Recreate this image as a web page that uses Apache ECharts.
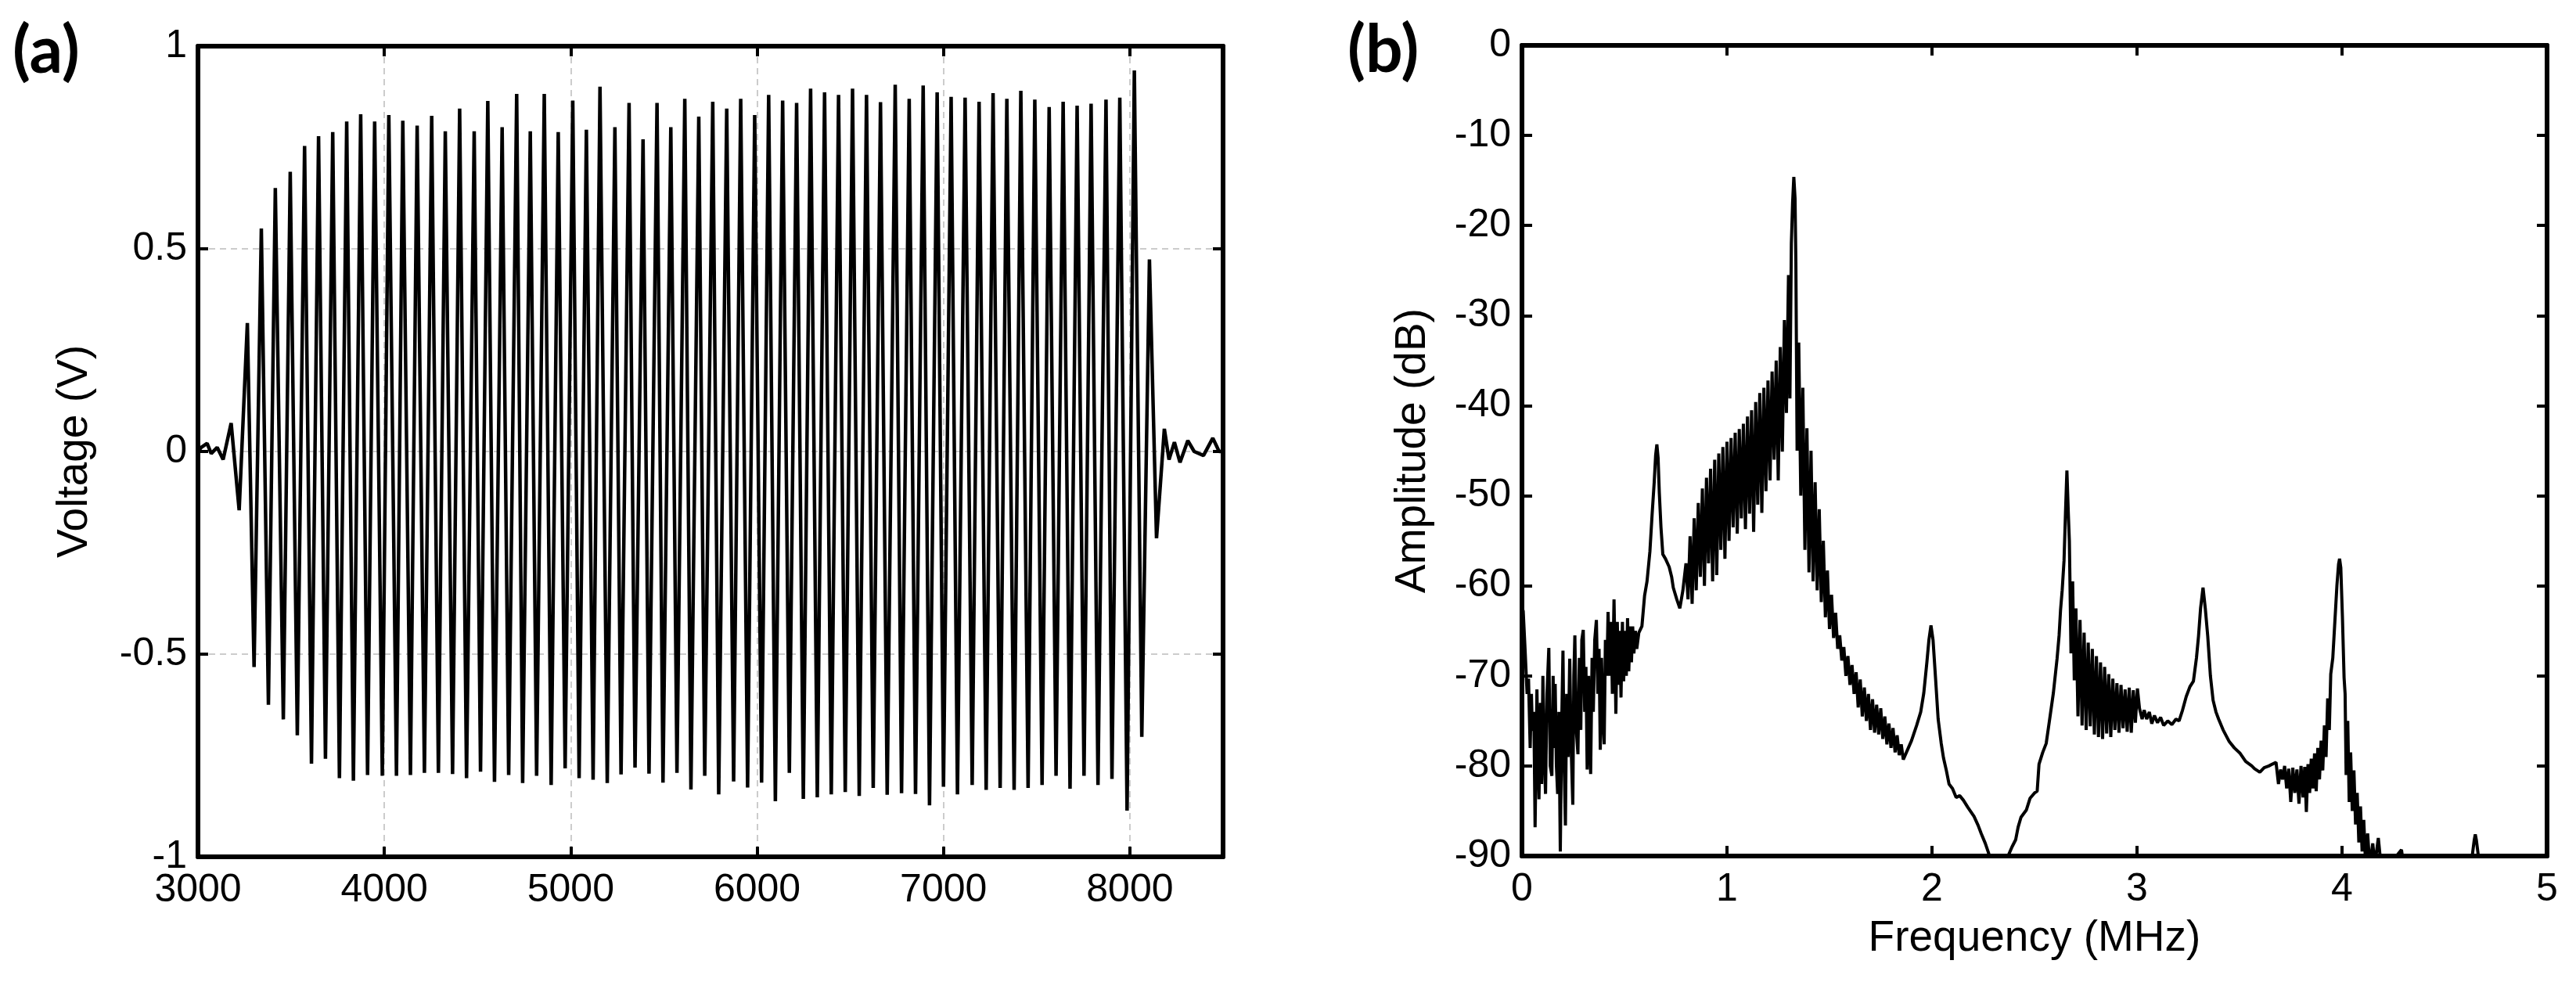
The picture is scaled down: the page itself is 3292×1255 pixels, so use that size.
<!DOCTYPE html>
<html>
<head>
<meta charset="utf-8">
<script src="https://cdn.jsdelivr.net/npm/echarts@6/dist/echarts.min.js"></script>
<style>
  html, body { margin: 0; padding: 0; background: #fff; }
  #chart { width: 3292px; height: 1255px; }
</style>
</head>
<body>
<div id="chart"></div>
<script>
// (a) time trace: peaks and troughs of each cycle
var leadSample = [3000, 3017, 3049, 3071, 3103, 3135];
var leadVolt = [0.0, 0.01, 0.02, -0.005, 0.01, -0.02];

var peakSample = [3178, 3265, 3340, 3415, 3495, 3572, 3647, 3723, 3798, 3873,
  3948, 4024, 4099, 4176, 4254, 4327, 4404, 4482, 4555, 4632,
  4710, 4783, 4858, 4933, 5011, 5084, 5157, 5237, 5313, 5388,
  5463, 5537, 5612, 5687, 5762, 5837, 5912, 5987, 6062, 6137,
  6212, 6287, 6362, 6437, 6512, 6587, 6662, 6741, 6816, 6891,
  6966, 7041, 7116, 7191, 7266, 7340, 7415, 7490, 7567, 7642,
  7717, 7792, 7872, 7946, 8024, 8105];
var peakVolt = [0.07, 0.317, 0.55, 0.65, 0.69, 0.754, 0.778, 0.788, 0.814, 0.832,
  0.814, 0.83, 0.816, 0.804, 0.828, 0.79, 0.846, 0.79, 0.865, 0.80,
  0.882, 0.79, 0.882, 0.788, 0.866, 0.794, 0.90, 0.80, 0.86, 0.77,
  0.86, 0.80, 0.87, 0.826, 0.863, 0.846, 0.87, 0.83, 0.88, 0.866,
  0.86, 0.895, 0.886, 0.88, 0.895, 0.88, 0.862, 0.905, 0.87, 0.903,
  0.886, 0.875, 0.873, 0.863, 0.884, 0.87, 0.89, 0.868, 0.85, 0.863,
  0.853, 0.858, 0.868, 0.873, 0.94, 0.474];

var troughSample = [3221, 3301, 3378, 3458, 3533, 3609, 3684, 3759, 3834, 3910,
  3989, 4065, 4140, 4215, 4290, 4366, 4441, 4516, 4591, 4667,
  4742, 4817, 4895, 4970, 5045, 5120, 5196, 5270, 5345, 5420,
  5495, 5570, 5645, 5719, 5794, 5874, 5949, 6024, 6098, 6173,
  6248, 6323, 6398, 6473, 6548, 6623, 6698, 6775, 6850, 6925,
  7000, 7075, 7154, 7229, 7304, 7379, 7454, 7529, 7604, 7679,
  7754, 7829, 7904, 7985, 8064, 8143];
var troughVolt = [-0.145, -0.532, -0.625, -0.661, -0.70, -0.77, -0.758, -0.806, -0.812, -0.798,
  -0.80, -0.80, -0.798, -0.793, -0.793, -0.796, -0.806, -0.79, -0.815, -0.798,
  -0.818, -0.80, -0.823, -0.782, -0.806, -0.81, -0.818, -0.797, -0.78, -0.795,
  -0.817, -0.793, -0.834, -0.80, -0.846, -0.814, -0.829, -0.817, -0.863, -0.793,
  -0.857, -0.853, -0.846, -0.84, -0.85, -0.83, -0.847, -0.843, -0.845, -0.873,
  -0.827, -0.846, -0.823, -0.835, -0.83, -0.835, -0.83, -0.823, -0.80, -0.832,
  -0.80, -0.823, -0.808, -0.886, -0.704, -0.214];

var tailSample = [8185, 8210, 8239, 8269, 8311, 8345, 8395, 8445, 8479, 8500];
var tailVolt = [0.056, -0.02, 0.023, -0.027, 0.027, 0.0, -0.01, 0.033, 0.0, 0.0];

// (b) spectrum
var lowFreq = [0, 0.006, 0.015, 0.025, 0.032, 0.04, 0.046, 0.051, 0.058, 0.064,
  0.073, 0.079, 0.083, 0.09, 0.096, 0.102, 0.109, 0.115, 0.122, 0.131,
  0.138, 0.146, 0.152, 0.157, 0.162, 0.168, 0.174, 0.18, 0.187, 0.194,
  0.2, 0.206, 0.212, 0.218, 0.225, 0.233, 0.24, 0.248, 0.253, 0.258,
  0.265, 0.273, 0.28, 0.287, 0.292, 0.299, 0.306, 0.312, 0.318, 0.325,
  0.33, 0.335, 0.342, 0.348, 0.355, 0.363, 0.37, 0.376, 0.382, 0.388,
  0.395, 0.401, 0.407, 0.414, 0.42, 0.428, 0.435, 0.441, 0.449, 0.454,
  0.458, 0.465, 0.471, 0.477, 0.483, 0.49, 0.496, 0.503, 0.509, 0.515,
  0.521, 0.528, 0.534, 0.54, 0.546, 0.553, 0.56, 0.57, 0.585, 0.598,
  0.61, 0.624, 0.635, 0.645, 0.652, 0.658, 0.664, 0.67, 0.678, 0.687,
  0.7, 0.718, 0.73, 0.738, 0.755, 0.77, 0.785];
var lowDb = [-62.5, -62.8, -67, -72, -70.3, -78, -72, -76.1, -74, -86.8,
  -71.5, -80, -83.7, -73, -82, -70, -79, -83.1, -72, -66.9,
  -80, -81.1, -70, -78, -70.9, -80, -83.1, -74, -89.5, -75,
  -67.2, -80, -86.6, -72, -79, -68.1, -78, -84.3, -70, -65.5,
  -76, -78.7, -68, -76, -66, -64.9, -74, -69, -80.4, -70,
  -77, -80.9, -68, -74, -66, -63.8, -72, -67, -78.2, -68,
  -75, -77.6, -66, -70, -62.9, -70, -64, -72, -61.5, -68,
  -74.2, -64, -71, -65, -72.4, -64, -70.6, -65, -70, -63.6,
  -69.5, -64.5, -68.5, -64.5, -67.5, -65, -67, -65.2, -64.5, -61.1,
  -59.5, -56.2, -52, -48.5, -45.5, -44.3, -45.8, -49.7, -53.5, -56.5,
  -57, -57.9, -59, -60.2, -61.5, -62.5, -60.5];

var mainFreq = [0.80, 0.81, 0.82, 0.83, 0.84, 0.85, 0.86, 0.87, 0.88, 0.89,
  0.90, 0.91, 0.92, 0.93, 0.94, 0.95, 0.96, 0.97, 0.98, 0.99,
  1.00, 1.01, 1.02, 1.03, 1.04, 1.05, 1.06, 1.07, 1.08, 1.09,
  1.10, 1.11, 1.12, 1.13, 1.14, 1.15, 1.16, 1.17, 1.18, 1.19,
  1.20, 1.21, 1.22, 1.23, 1.24, 1.25, 1.26, 1.27, 1.28, 1.29,
  1.30, 1.307, 1.314, 1.32, 1.326, 1.332, 1.336, 1.342, 1.35, 1.36,
  1.37, 1.38, 1.39, 1.40, 1.41, 1.42, 1.43, 1.44, 1.45, 1.46,
  1.47, 1.48, 1.49, 1.50, 1.51, 1.52, 1.53, 1.54, 1.55, 1.56,
  1.57, 1.58, 1.59, 1.60, 1.61, 1.62, 1.63, 1.64, 1.65, 1.66,
  1.67, 1.68, 1.69, 1.70, 1.71, 1.72, 1.73, 1.74, 1.75, 1.76,
  1.77, 1.78, 1.79, 1.80, 1.81, 1.82, 1.83, 1.84, 1.85, 1.86];
var mainDb = [-57.5, -61.5, -54.5, -62.0, -52.5, -60.5, -50.8, -59.0, -49.2, -60.0,
  -48.0, -57.5, -47.0, -59.5, -46.0, -58.8, -45.3, -56.0, -44.6, -57.0,
  -44.0, -55.0, -43.6, -53.5, -43.0, -54.2, -42.6, -52.5, -42.0, -53.7,
  -41.2, -52.0, -40.5, -54.0, -39.6, -51.0, -38.6, -51.9, -38.0, -49.5,
  -37.2, -48.3, -36.2, -46.0, -35.0, -48.3, -33.5, -45.1, -30.5, -40.8,
  -25.5, -39.2, -22.0, -17.5, -14.6, -17.0, -24.0, -45.0, -33.0, -50.0,
  -38.0, -56.0, -42.5, -58.5, -45.0, -59.5, -48.5, -60.5, -51.5, -61.8,
  -55.0, -63.5, -58.3, -64.8, -61.0, -65.8, -63.0, -67.0, -65.5, -68.3,
  -66.8, -70.0, -67.8, -71.0, -68.8, -72.0, -69.6, -73.5, -70.4, -74.5,
  -71.3, -75.0, -72.0, -76.0, -72.6, -76.3, -73.2, -76.5, -73.6, -77.0,
  -74.5, -77.6, -75.3, -78.0, -75.8, -78.5, -76.6, -78.8, -77.6, -79.3];

var midFreq = [1.875, 1.90, 1.925, 1.945, 1.96, 1.975, 1.985, 1.995, 2.005, 2.018,
  2.03, 2.045, 2.056, 2.07, 2.083, 2.10, 2.118, 2.135, 2.153, 2.175,
  2.205, 2.225, 2.24, 2.26, 2.275, 2.29, 2.32, 2.35, 2.373, 2.39,
  2.408, 2.42, 2.434, 2.46, 2.478, 2.50, 2.513, 2.522, 2.54, 2.557,
  2.574, 2.592, 2.61, 2.62, 2.627, 2.635, 2.644, 2.651, 2.658, 2.665];
var midDb = [-78.5, -77.2, -75.5, -74.0, -71.9, -68.5, -66.0, -64.4, -66.0, -70.5,
  -74.8, -77.5, -79.1, -80.5, -82.0, -82.5, -83.5, -83.3, -83.8, -84.6,
  -85.6, -86.6, -87.5, -88.6, -89.6, -90.8, -92.0, -91.5, -89.9, -89.0,
  -88.2, -86.8, -85.7, -84.9, -83.6, -83.0, -82.8, -79.8, -78.5, -77.5,
  -74.8, -71.9, -68.1, -65.5, -62.7, -60.5, -57.2, -52.0, -47.2, -52.0];

var upperFreq = [2.67, 2.678, 2.686, 2.694, 2.702, 2.712, 2.722, 2.732, 2.742, 2.752,
  2.762, 2.772, 2.782, 2.792, 2.802, 2.812, 2.822, 2.832, 2.842, 2.852,
  2.862, 2.872, 2.882, 2.892, 2.902, 2.912, 2.922, 2.932, 2.942, 2.952,
  2.962, 2.972, 2.982, 2.992, 3.002, 3.012, 3.025, 3.035, 3.047, 3.06,
  3.072, 3.085, 3.10, 3.115, 3.13, 3.15, 3.17, 3.19, 3.205, 3.222,
  3.24, 3.258, 3.275, 3.29, 3.30, 3.31, 3.322, 3.333, 3.345, 3.358,
  3.371, 3.385, 3.398, 3.42, 3.45, 3.475, 3.503, 3.53, 3.56, 3.573,
  3.599, 3.62, 3.643, 3.66, 3.678];
var upperDb = [-55.0, -67.5, -59.5, -70.5, -62.5, -74.5, -63.8, -75.5, -65.2, -76.0,
  -66.3, -75.6, -67.0, -76.5, -67.8, -76.8, -68.5, -77.0, -69.0, -76.4,
  -69.8, -76.8, -70.3, -76.0, -70.8, -76.3, -71.0, -75.8, -71.5, -76.2,
  -71.3, -76.3, -71.6, -75.2, -71.4, -73.6, -74.8, -73.8, -74.8, -74.0,
  -75.3, -74.4, -75.2, -74.6, -75.5, -75.0, -75.4, -74.8, -75.0, -73.8,
  -72.3, -71.2, -70.6, -68.0, -65.6, -62.5, -60.2, -62.5, -65.6, -70.0,
  -72.7, -74.0, -74.8, -76.0, -77.3, -78.0, -78.6, -79.5, -80.0, -80.3,
  -80.7, -80.2, -80.0, -79.8, -79.6];

var highFreq = [3.69, 3.70, 3.71, 3.72, 3.73, 3.74, 3.75, 3.76, 3.77, 3.78,
  3.79, 3.80, 3.81, 3.818, 3.826, 3.834, 3.842, 3.85, 3.858, 3.866,
  3.874, 3.882, 3.89, 3.898, 3.906, 3.914, 3.922, 3.93, 3.938, 3.945,
  3.955, 3.965, 3.975, 3.983, 3.988, 3.994, 4.002, 4.01, 4.015, 4.02,
  4.028, 4.035, 4.042, 4.05, 4.058, 4.066, 4.074, 4.082, 4.09, 4.098,
  4.106, 4.115, 4.125, 4.135, 4.15, 4.16, 4.177, 4.19, 4.23, 4.29,
  4.30, 4.62, 4.635, 4.645, 4.65, 4.655, 4.665, 4.68, 5.0];
var highDb = [-82.0, -80.4, -81.5, -80.0, -82.5, -80.3, -84.0, -80.2, -83.0, -80.4,
  -84.2, -80.0, -83.5, -80.1, -85.1, -79.8, -83.0, -79.2, -82.5, -78.6,
  -82.8, -78.0, -81.5, -77.2, -80.5, -75.5, -79.0, -72.5, -76.0, -69.8,
  -68.0, -64.0, -60.0, -57.6, -57.0, -58.0, -63.5, -70.2, -72.0, -81.0,
  -75.0, -84.0, -78.5, -85.0, -80.5, -86.5, -83.0, -88.5, -84.5, -89.5,
  -86.0, -91.0, -87.5, -91.0, -88.6, -91.0, -88.0, -91.0, -91.0, -89.3,
  -91.0, -91.0, -90.0, -88.2, -87.6, -88.2, -90.0, -91.0, -91.0];

// build point lists
var wave = [];
for (var i = 0; i < leadSample.length; i++) wave.push([leadSample[i], leadVolt[i]]);
for (var i = 0; i < peakSample.length; i++) {
  wave.push([peakSample[i], peakVolt[i]]);
  wave.push([troughSample[i], troughVolt[i]]);
}
for (var i = 0; i < tailSample.length; i++) wave.push([tailSample[i], tailVolt[i]]);

var spec = [];
function addSpec(f, d) {
  for (var i = 0; i < f.length; i++) spec.push([f[i], d[i]]);
}
addSpec(lowFreq, lowDb);
addSpec(mainFreq, mainDb);
addSpec(midFreq, midDb);
addSpec(upperFreq, upperDb);
addSpec(highFreq, highDb);

var FONT = 'Liberation Sans';
var BLACK = '#000';

function frame(extra) {
  var ax = {
    type: 'value',
    axisLine: { show: true, onZero: false, lineStyle: { color: BLACK, width: 6 } },
    axisTick: { show: true, inside: true, length: 13, lineStyle: { color: BLACK, width: 4 } },
    axisLabel: { show: false },
    splitLine: { show: false }
  };
  for (var k in extra) ax[k] = extra[k];
  return ax;
}

var labelStyle = { show: true, color: BLACK, fontFamily: FONT, fontSize: 50 };
var gridLine = { show: true, lineStyle: { color: '#cccccc', width: 2, type: [8, 6] } };

var chart = echarts.init(document.getElementById('chart'));
var option = {
  animation: false,
  backgroundColor: '#fff',
  textStyle: { fontFamily: FONT },
  grid: [
    { left: 253, top: 59, width: 1310, height: 1036 },
    { left: 1945, top: 58, width: 1310, height: 1036 }
  ],
  xAxis: [
    frame({
      gridIndex: 0, position: 'bottom', min: 3000, max: 8500, interval: 1000,
      axisLabel: Object.assign({}, labelStyle, {
        margin: 18,
        formatter: function (v) { return v === 8500 ? '' : String(v); }
      }),
      splitLine: gridLine
    }),
    frame({ gridIndex: 0, position: 'top', min: 3000, max: 8500, interval: 1000 }),
    frame({
      gridIndex: 1, position: 'bottom', min: 0, max: 5, interval: 1,
      axisLabel: Object.assign({}, labelStyle, { margin: 18 }),
      name: 'Frequency (MHz)', nameLocation: 'middle', nameGap: 78,
      nameTextStyle: { color: BLACK, fontFamily: FONT, fontSize: 55 }
    }),
    frame({ gridIndex: 1, position: 'top', min: 0, max: 5, interval: 1 })
  ],
  yAxis: [
    frame({
      gridIndex: 0, position: 'left', min: -1, max: 1, interval: 0.5,
      axisLabel: Object.assign({}, labelStyle, {
        margin: 14,
        formatter: function (v) { return String(v); }
      }),
      splitLine: gridLine,
      name: 'Voltage (V)', nameLocation: 'middle', nameGap: 130,
      nameTextStyle: { color: BLACK, fontFamily: FONT, fontSize: 55 }
    }),
    frame({ gridIndex: 0, position: 'right', min: -1, max: 1, interval: 0.5 }),
    frame({
      gridIndex: 1, position: 'left', min: -90, max: 0, interval: 10,
      axisLabel: Object.assign({}, labelStyle, { margin: 14 }),
      name: 'Amplitude (dB)', nameLocation: 'middle', nameGap: 112,
      nameTextStyle: { color: BLACK, fontFamily: FONT, fontSize: 55 }
    }),
    frame({ gridIndex: 1, position: 'right', min: -90, max: 0, interval: 10 })
  ],
  graphic: [
    { type: 'text', left: 16, top: 24,
      style: { text: '(a)', fill: BLACK, font: 'bold 84px Lato' } },
    { type: 'text', left: 1722, top: 23,
      style: { text: '(b)', fill: BLACK, font: 'bold 84px Lato' } }
  ],
  series: [
    {
      type: 'line', xAxisIndex: 0, yAxisIndex: 0, data: wave,
      showSymbol: false, silent: true, sampling: null,
      lineStyle: { color: BLACK, width: 4.5 }
    },
    {
      type: 'line', xAxisIndex: 2, yAxisIndex: 2, data: spec,
      showSymbol: false, silent: true,
      lineStyle: { color: BLACK, width: 4 }
    }
  ]
};
chart.setOption(option);
</script>
</body>
</html>
